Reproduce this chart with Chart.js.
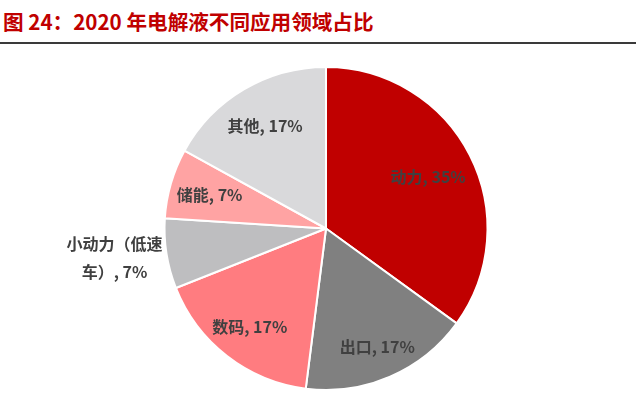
<!DOCTYPE html>
<html>
<head>
<meta charset="utf-8">
<script src="https://cdn.jsdelivr.net/npm/chart.js@4/dist/chart.umd.min.js"></script>
<style>
  html, body { margin: 0; padding: 0; background: #ffffff; }
  #wrap { position: relative; width: 636px; height: 395px; overflow: hidden; }
  #title { position: absolute; left: 3px; top: 8px; font-family: "Noto Sans CJK SC", sans-serif; font-weight: 700; font-size: 20.6px; color: #C00000; white-space: nowrap; line-height: 26px; }
  #rule { position: absolute; left: 0; top: 42px; width: 636px; height: 2px; background: #3a3a3a; }
  #c { position: absolute; left: 0; top: 0; }
</style>
</head>
<body>
<div id="wrap">
  <div id="title">图 24：2020 年电解液不同应用领域占比</div>
  <div id="rule"></div>
  <canvas id="c" width="636" height="395"></canvas>
</div>
<script>
const categories = ['动力', '出口', '数码', ['小动力（低速', '车）'], '储能', '其他'];
const shares = [35, 17, 17, 7, 7, 17];
const colors = ['#C00000', '#808080', '#FF7C80', '#BEBEC0', '#FFA3A3', '#D9D9DB'];
// radial placement of inside labels (fraction of radius)
const labelRadius = [0.71, 0.8, 0.77, 1, 0.75, 0.74];

const labelPlugin = {
  id: 'sliceLabels',
  afterDatasetsDraw(chart) {
    const ctx = chart.ctx;
    const meta = chart.getDatasetMeta(0);
    const data = chart.data.datasets[0].data;
    const total = data.reduce((a, b) => a + b, 0);
    ctx.save();
    ctx.font = 'bold 16px "Noto Sans CJK SC", sans-serif';
    ctx.fillStyle = '#404040';
    ctx.textBaseline = 'middle';
    ctx.textAlign = 'center';
    meta.data.forEach((arc, i) => {
      const p = arc.getProps(['x', 'y', 'startAngle', 'endAngle', 'outerRadius'], true);
      const mid = (p.startAngle + p.endAngle) / 2;
      const pct = Math.round(data[i] / total * 100) + '%';
      const lab = chart.data.labels[i];
      if (Array.isArray(lab)) {
        const lines = lab.slice();
        lines[lines.length - 1] = lines[lines.length - 1] + ', ' + pct;
        const r = p.outerRadius + 4;
        const cx = p.x + Math.cos(mid) * r;
        const cy = p.y + Math.sin(mid) * r + 4;
        const lh = 28;
        const w = ctx.measureText(lines[0]).width;
        const centerX = cx - w / 2;
        lines.forEach((ln, k) => {
          ctx.fillText(ln, centerX, cy + (k - (lines.length - 1) / 2) * lh);
        });
      } else {
        const r = p.outerRadius * labelRadius[i];
        ctx.fillText(lab + ', ' + pct, p.x + Math.cos(mid) * r, p.y + Math.sin(mid) * r);
      }
    });
    ctx.restore();
  }
};

new Chart(document.getElementById('c'), {
  type: 'pie',
  data: {
    labels: categories,
    datasets: [{
      data: shares,
      backgroundColor: colors,
      borderColor: '#ffffff',
      borderWidth: 2
    }]
  },
  options: {
    responsive: false,
    animation: false,
    layout: { padding: { left: 16, right: 0, top: 66, bottom: 4 } },
    plugins: { legend: { display: false }, tooltip: { enabled: false } }
  },
  plugins: [labelPlugin]
});
</script>
</body>
</html>
